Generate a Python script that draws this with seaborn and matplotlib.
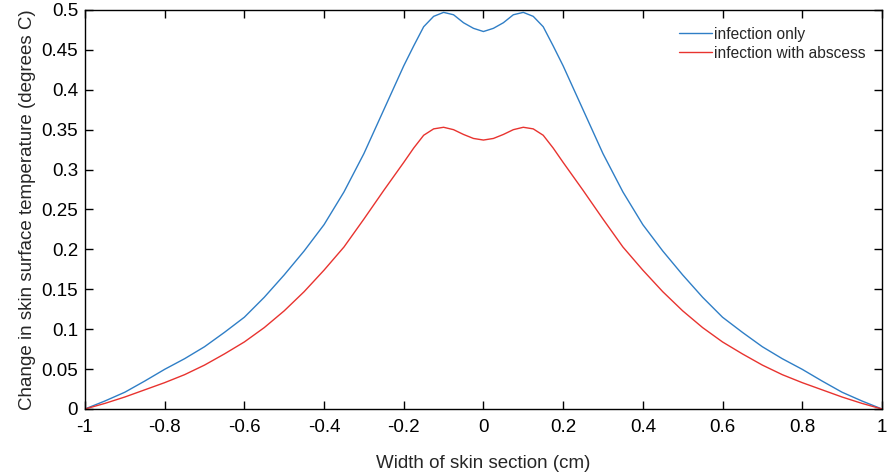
import matplotlib
matplotlib.use("Agg")
import matplotlib.pyplot as plt
import seaborn as sns
import pandas as pd

# half-profile (x <= 0); curves are symmetric about x = 0
x_half = [-1.0, -0.95, -0.9, -0.85, -0.8, -0.75, -0.7, -0.65, -0.6, -0.55, -0.5,
          -0.45, -0.4, -0.35, -0.3, -0.25, -0.2, -0.175, -0.15, -0.125, -0.1,
          -0.075, -0.05, -0.025, 0.0]
infection_only_half = [0.0, 0.010, 0.021, 0.035, 0.0497, 0.063, 0.078, 0.096, 0.115,
                       0.140, 0.168, 0.198, 0.231, 0.272, 0.320, 0.375, 0.430, 0.455,
                       0.479, 0.492, 0.497, 0.494, 0.484, 0.477, 0.473]
with_abscess_half = [0.0, 0.007, 0.015, 0.024, 0.033, 0.043, 0.055, 0.069, 0.084,
                     0.102, 0.123, 0.147, 0.174, 0.203, 0.238, 0.274, 0.309, 0.327,
                     0.343, 0.351, 0.353, 0.350, 0.344, 0.339, 0.337]

series_names = ["infection only", "infection with abscess"]
series_colors = ["#2f7ec6", "#e8332f"]

x_ticks = [-1, -0.8, -0.6, -0.4, -0.2, 0, 0.2, 0.4, 0.6, 0.8, 1]
x_tick_labels = ["-1", "-0.8", "-0.6", "-0.4", "-0.2", "0", "0.2", "0.4", "0.6", "0.8", "1"]
y_ticks = [0, 0.05, 0.1, 0.15, 0.2, 0.25, 0.3, 0.35, 0.4, 0.45, 0.5]
y_tick_labels = ["0", "0.05", "0.1", "0.15", "0.2", "0.25", "0.3", "0.35", "0.4", "0.45", "0.5"]

def mirror(xs, ys):
    xf = list(xs) + [-v for v in reversed(xs[:-1])]
    yf = list(ys) + list(reversed(ys[:-1]))
    return xf, yf

rows = []
for name, half in zip(series_names, [infection_only_half, with_abscess_half]):
    xf, yf = mirror(x_half, half)
    for a, b in zip(xf, yf):
        rows.append({"x": a, "y": b, "series": name})
df = pd.DataFrame(rows)

sns.set_style("ticks")
plt.rcParams["font.family"] = ["Liberation Sans", "DejaVu Sans"]

fig = plt.figure(figsize=(8.89, 4.75), dpi=100)
ax = fig.add_axes([0.0956, 0.139, 0.8964, 0.840])

sns.lineplot(data=df, x="x", y="y", hue="series", hue_order=series_names,
             palette=series_colors, linewidth=1.0, sort=False, estimator=None,
             ax=ax)

ax.set_xlim(-1, 1)
ax.set_ylim(0, 0.5)
ax.set_xticks(x_ticks)
ax.set_xticklabels(x_tick_labels)
ax.set_yticks(y_ticks)
ax.set_yticklabels(y_tick_labels)
ax.tick_params(direction="in", length=6, width=1.0, top=True, right=True,
               labelsize=13.5, colors="black")
ax.tick_params(axis="x", pad=7)
ax.tick_params(axis="y", pad=5)
for s in ax.spines.values():
    s.set_visible(True)
    s.set_linewidth(1.0)
    s.set_color("black")

ax.set_xlabel("Width of skin section (cm)", fontsize=13.5, labelpad=14)
ax.set_ylabel("Change in skin surface temperature (degrees C)", fontsize=13.5, labelpad=4)

leg = ax.legend(loc="upper right", bbox_to_anchor=(0.993, 0.985), frameon=False,
                fontsize=11.2, handlelength=2.1, handletextpad=0.15,
                labelspacing=0.25, borderaxespad=0.3)

fig.savefig("out.png", dpi=100)
